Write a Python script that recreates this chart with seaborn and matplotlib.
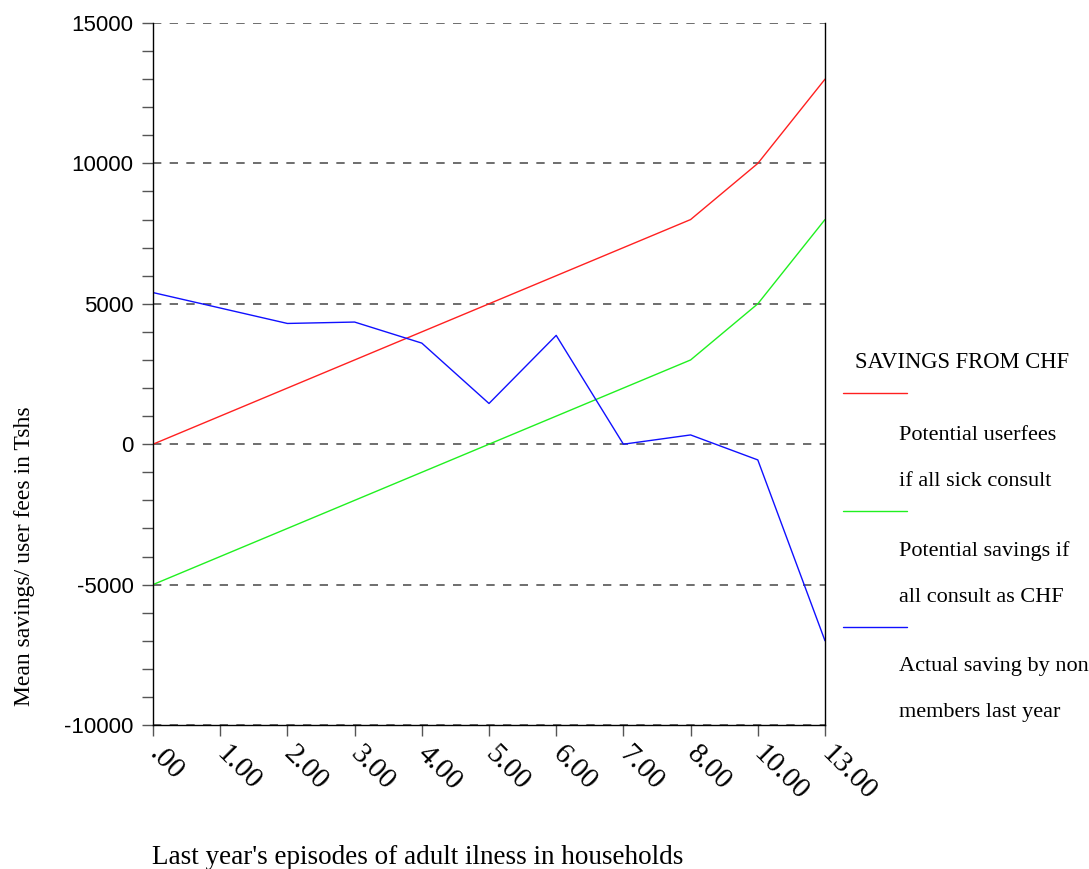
import pandas as pd
import numpy as np
import matplotlib.pyplot as plt
import matplotlib.ticker as mticker
import matplotlib.transforms as mtrans
from matplotlib.lines import Line2D
import seaborn as sns

# ── Dados ────────────────────────────────────────────────────────────────────
episodios = [".00", "1.00", "2.00", "3.00", "4.00", "5.00", "6.00", "7.00", "8.00", "10.00", "13.00"]
userfees  = [0, 1000, 2000, 3000, 4000, 5000, 6000, 7000, 8000, 10000, 13000]
poupanca  = [-5000, -4000, -3000, -2000, -1000, 0, 1000, 2000, 3000, 5000, 8000]
real      = [5400, 4850, 4300, 4350, 3600, 1450, 3875, 0, 330, -560, -7000]

series = ["Potential userfees\nif all sick consult",
          "Potential savings if\nall consult as CHF",
          "Actual saving by non\nmembers last year"]
cores = ["#ff2020", "#20f020", "#1010ff"]

df = pd.DataFrame({
    "pos": list(range(len(episodios))) * 3,
    "valor": userfees + poupanca + real,
    "serie": [s for s in series for _ in episodios],
})

# ── Figura ───────────────────────────────────────────────────────────────────
sns.set_style("white")
plt.rcParams["font.family"] = ["Liberation Serif", "DejaVu Serif"]
plt.rcParams["axes.unicode_minus"] = False
plt.rcParams["text.color"] = "black"
plt.rcParams["xtick.color"] = "black"
plt.rcParams["ytick.color"] = "black"

fig = plt.figure(figsize=(10.89, 8.69), dpi=100)
ax = fig.add_axes([153/1089, 1 - 725/869, 672/1089, 702/869])

sns.lineplot(data=df, x="pos", y="valor", hue="serie", palette=cores,
             hue_order=series, lw=1.0, legend=False, ax=ax)

ax.set_xlim(0, len(episodios) - 1)
ax.set_ylim(-10000, 15000)
ax.set_xticks(range(len(episodios)))
ax.set_xticklabels(episodios, rotation=-45, ha="left", va="center",
                   rotation_mode="anchor", fontsize=21,
                   family=["Liberation Serif"])
desloc = mtrans.ScaledTranslation(6/100, -8/100, fig.dpi_scale_trans)
for lab in ax.get_xticklabels():
    lab.set_transform(lab.get_transform() + desloc)

ax.yaxis.set_major_locator(mticker.MultipleLocator(5000))
ax.yaxis.set_minor_locator(mticker.MultipleLocator(1000))
for lab in ax.get_yticklabels():
    lab.set_family(["Liberation Sans"])
    lab.set_fontsize(16)

ax.tick_params(axis="y", which="both", direction="out", length=8, width=1,
               color="#555555", left=True, pad=6)
ax.tick_params(axis="x", direction="out", length=8, width=1,
               color="#555555", bottom=True, pad=10)

ax.grid(False)
for y in ax.get_yticks():
    ax.axhline(y, color="#555555", lw=1.2, ls=(0, (5, 5)), zorder=0)

ax.spines["top"].set_visible(False)
for s in ["left", "right", "bottom"]:
    ax.spines[s].set_color("black")
    ax.spines[s].set_linewidth(1)
ax.set_xlabel("")
ax.set_ylabel("")

# Rótulos dos eixos
fig.text(25/1089, 1 - 556/869, "Mean savings/ user fees in Tshs",
         rotation=90, ha="center", va="center", fontsize=17)
fig.text(152/1089, 1 - 858/869, "Last year's episodes of adult ilness in households",
         ha="left", va="center", fontsize=19.5)

# ── Legenda estilo SPSS ──────────────────────────────────────────────────────
fig.text(855/1089, 1 - 362/869, "SAVINGS FROM CHF", ha="left", va="center", fontsize=16.3)
linhas_y = [393, 511, 627]
textos_y = [(436, 481), (551, 597), (667, 712)]
for serie, cor, ly, (t1, t2) in zip(series, cores, linhas_y, textos_y):
    fig.add_artist(Line2D([843/1089, 907/1089], [1 - ly/869, 1 - ly/869],
                          color=cor, lw=1.0, transform=fig.transFigure))
    l1, l2 = serie.split("\n")
    fig.text(899/1089, 1 - t1/869, l1, ha="left", va="center", fontsize=16)
    fig.text(899/1089, 1 - t2/869, l2, ha="left", va="center", fontsize=16)

fig.savefig("out.png", dpi=100)
